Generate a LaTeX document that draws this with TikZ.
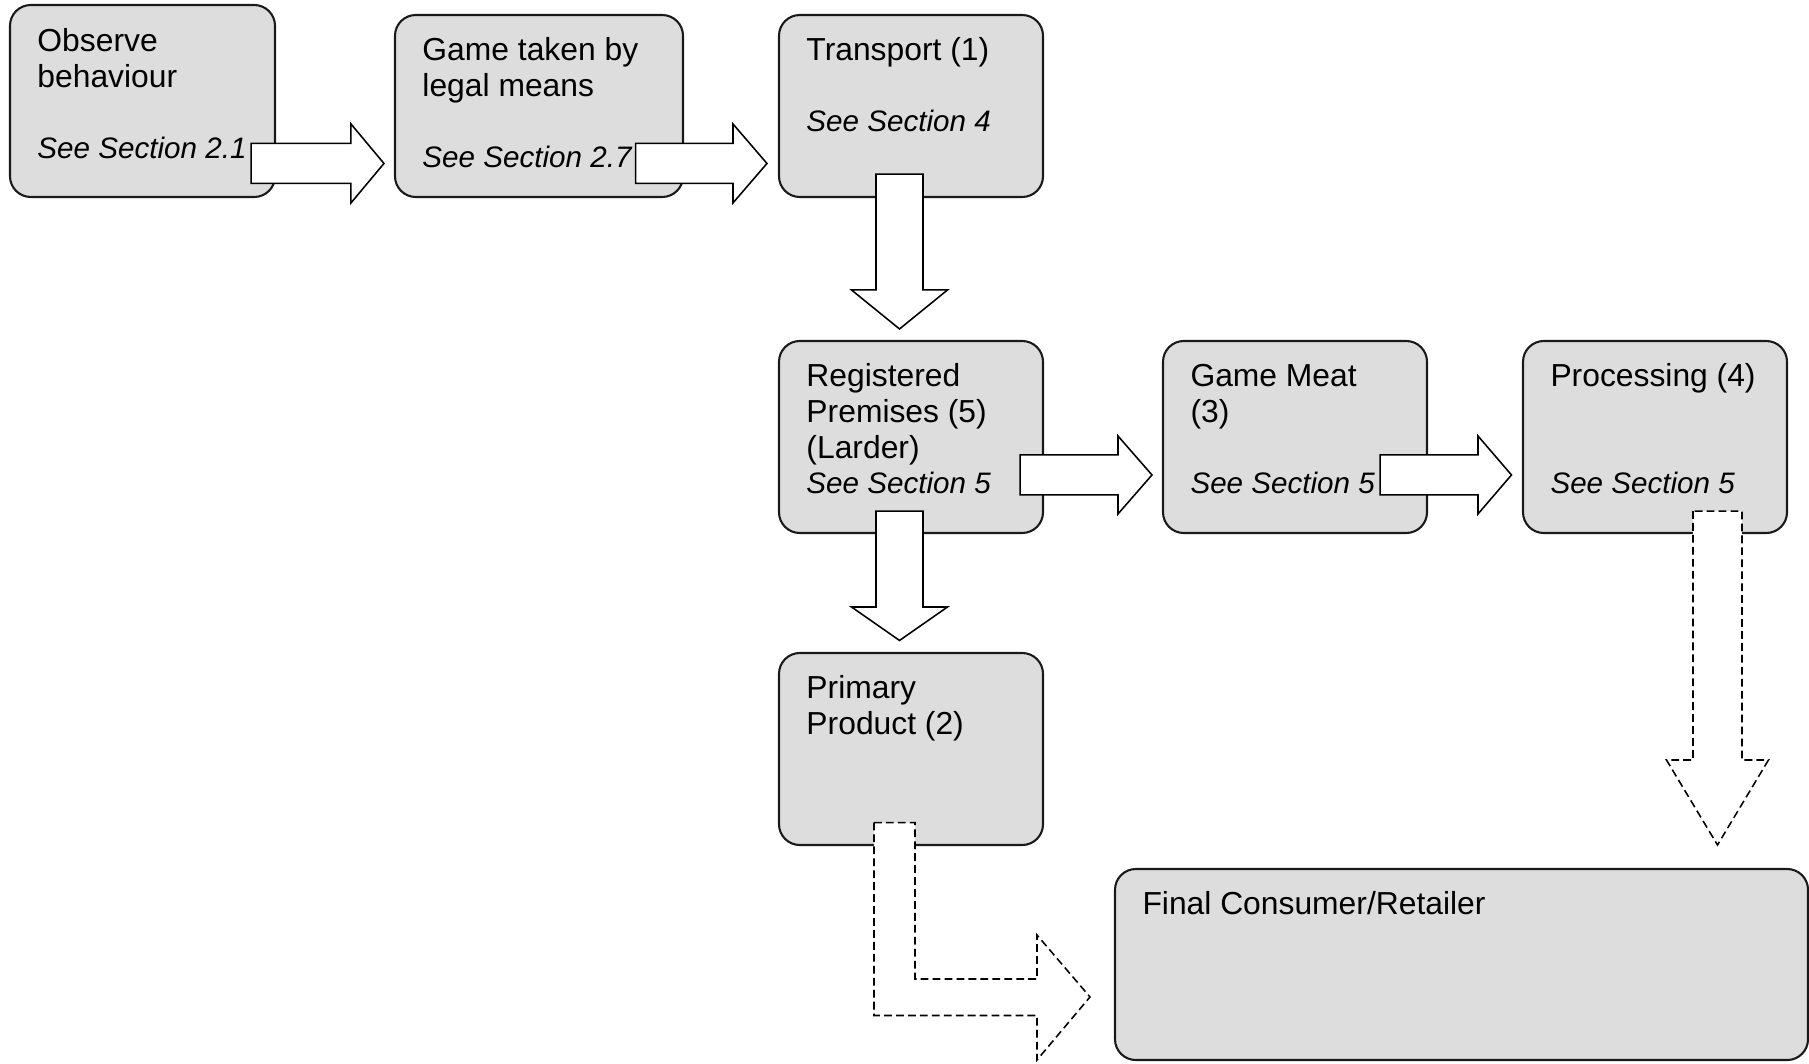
\documentclass[tikz,border=0pt]{standalone}
\usepackage{fontspec}
\setmainfont{Liberation Sans}
\usetikzlibrary{calc,fit}

\definecolor{boxfill}{RGB}{221,221,221}
\definecolor{boxline}{RGB}{25,25,25}

\tikzset{
  stage/.style={draw=boxline, line width=0.8pt, fill=boxfill, rounded corners=8pt, inner sep=0pt},
  title/.style={anchor=base west, inner sep=0pt, font=\fontsize{12.25}{14}\selectfont},
  ref/.style={anchor=base west, inner sep=0pt, font=\fontsize{11.4}{13}\selectfont\itshape},
  blockarrow/.style={draw=black, fill=white, line width=0.6pt, line join=miter},
  optional/.style={blockarrow, dash pattern=on 3pt off 1.6pt},
}

% horizontal block arrow: style, tail centre, tip, shaft half-width, head half-width, head length
\newcommand\hblock[6]{%
  \draw[#1] ($(#2)+(0,-#4)$) -- ($(#3)+(-#6,-#4)$) -- ($(#3)+(-#6,-#5)$) -- (#3)
    -- ($(#3)+(-#6,#5)$) -- ($(#3)+(-#6,#4)$) -- ($(#2)+(0,#4)$) -- cycle;}
% downward block arrow: style, tail centre, tip, shaft half-width, head half-width, head length
\newcommand\vblock[6]{%
  \draw[#1] ($(#2)+(-#4,0)$) -- ($(#3)+(-#4,-#6)$) -- ($(#3)+(-#5,-#6)$) -- (#3)
    -- ($(#3)+(#5,-#6)$) -- ($(#3)+(#4,-#6)$) -- ($(#2)+(#4,0)$) -- cycle;}

\begin{document}
\begin{tikzpicture}[x=0.385pt, y=-0.385pt]
\useasboundingbox (0,0) rectangle (1809,1063);

% stages of the chain
\node[stage, fit={(10,5) (275,197)}]      (obs)   {};
\node[stage, fit={(395,15) (683,197)}]    (take)  {};
\node[stage, fit={(779,15) (1043,197)}]   (trans) {};
\node[stage, fit={(779,341) (1043,533)}]  (prem)  {};
\node[stage, fit={(1163,341) (1427,533)}] (meat)  {};
\node[stage, fit={(1523,341) (1787,533)}] (proc)  {};
\node[stage, fit={(779,653) (1043,845)}]  (prim)  {};
\node[stage, fit={(1115,869) (1808,1060)}] (final) {};

% arrow anchor points
\coordinate (a1s) at ($(obs.north east)+(-25,159.5)$);
\coordinate (a1t) at ($(take.west |- a1s)+(-10,0)$);
\coordinate (a2s) at ($(take.north east)+(-48.5,149.5)$);
\coordinate (a2t) at ($(trans.west |- a2s)+(-11,0)$);
\coordinate (a3s) at ($(trans.south)+(-11.5,-24)$);
\coordinate (a3t) at ($(a3s |- prem.north)+(0,-11)$);
\coordinate (a4s) at ($(prem.north east)+(-24,135)$);
\coordinate (a4t) at ($(meat.west |- a4s)+(-10,0)$);
\coordinate (a5s) at ($(meat.north east)+(-48,135)$);
\coordinate (a5t) at ($(proc.west |- a5s)+(-10.5,0)$);
\coordinate (a6s) at ($(prem.south)+(-11.5,-23)$);
\coordinate (a6t) at ($(a6s |- prim.north)+(0,-11.5)$);
\coordinate (a7s) at ($(proc.south west)+(195.5,-23)$);
\coordinate (a7t) at ($(a7s |- final.north)+(0,-23)$);
\coordinate (a8s) at ($(prim.south west)+(116.5,-23.5)$);
\coordinate (a8t) at ($(final.north west)+(-24,129)$);

% solid block arrows
\hblock{blockarrow}{a1s}{a1t}{20}{39.5}{33}
\hblock{blockarrow}{a2s}{a2t}{20}{39.5}{34}
\vblock{blockarrow}{a3s}{a3t}{23.5}{48}{39}
\hblock{blockarrow}{a4s}{a4t}{20}{39}{34}
\hblock{blockarrow}{a5s}{a5t}{20}{39}{33.5}
\vblock{blockarrow}{a6s}{a6t}{23.5}{48}{33.5}

% dashed block arrows
\vblock{optional}{a7s}{a7t}{24.5}{51}{85}
\draw[optional] ($(a8s)+(-20.5,0)$) -- ($(a8s)+(20.5,0)$) -- ($(a8s |- a8t)+(20.5,-18)$)
  -- ($(a8t)+(-53,-18)$) -- ($(a8t)+(-53,-62)$) -- (a8t) -- ($(a8t)+(-53,63)$)
  -- ($(a8t)+(-53,18.5)$) -- ($(a8s |- a8t)+(-20.5,18.5)$) -- cycle;

% texts
\node[title] (obs-1) at ($(obs.north west)+(28,48)$) {Observe};
\node[title] (obs-2) at ($(obs.north west)+(28,84)$) {behaviour};
\node[ref]   (obs-3) at ($(obs.north west)+(28,155)$) {See Section 2.1};

\node[title] (take-1) at ($(take.north west)+(28,47)$) {Game taken by};
\node[title] (take-2) at ($(take.north west)+(28,83)$) {legal means};
\node[ref]   (take-3) at ($(take.north west)+(28,154)$) {See Section 2.7};

\node[title] (trans-1) at ($(trans.north west)+(28,47)$) {Transport (1)};
\node[ref]   (trans-2) at ($(trans.north west)+(28,118)$) {See Section 4};

\node[title] (prem-1) at ($(prem.north west)+(28,47)$) {Registered};
\node[title] (prem-2) at ($(prem.north west)+(28,83)$) {Premises (5)};
\node[title] (prem-3) at ($(prem.north west)+(28,119)$) {(Larder)};
\node[ref]   (prem-4) at ($(prem.north west)+(28,154)$) {See Section 5};

\node[title] (meat-1) at ($(meat.north west)+(28,47)$) {Game Meat};
\node[title] (meat-2) at ($(meat.north west)+(28,83)$) {(3)};
\node[ref]   (meat-3) at ($(meat.north west)+(28,154)$) {See Section 5};

\node[title] (proc-1) at ($(proc.north west)+(28,47)$) {Processing (4)};
\node[ref]   (proc-2) at ($(proc.north west)+(28,154)$) {See Section 5};

\node[title] (prim-1) at ($(prim.north west)+(28,47)$) {Primary};
\node[title] (prim-2) at ($(prim.north west)+(28,83)$) {Product (2)};

\node[title] (final-1) at ($(final.north west)+(28,47)$) {Final Consumer/Retailer};
\end{tikzpicture}
\end{document}
